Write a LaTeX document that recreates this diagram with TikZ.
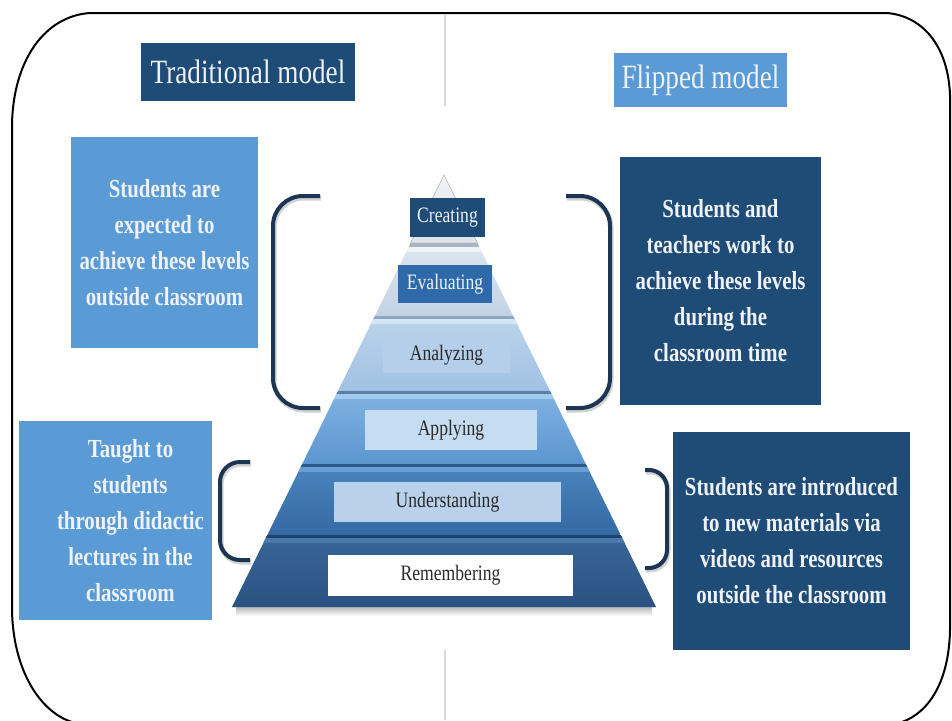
\documentclass[tikz,border=0pt]{standalone}
\usepackage{fontspec}
\setmainfont{Liberation Serif}
\newfontfamily\cond[FakeStretch=0.8]{Liberation Serif}
\usetikzlibrary{calc}
\definecolor{navy}{HTML}{1F4B77}
\definecolor{midblue}{HTML}{5B9BD5}
\definecolor{brk}{HTML}{1B3553}
\definecolor{lighttext}{HTML}{EEF2F6}
\definecolor{darktext}{HTML}{2A2A2A}
\definecolor{Aa}{HTML}{F0F3F7}\definecolor{Ab}{HTML}{DCE3EB}
\definecolor{Ba}{HTML}{DDE6EF}\definecolor{Bb}{HTML}{C3D3E5}
\definecolor{Bs}{HTML}{A9B5C2}\definecolor{Bh}{HTML}{EEF3F8}
\definecolor{Ca}{HTML}{BCD4EC}\definecolor{Cb}{HTML}{A0C1E3}
\definecolor{Cs}{HTML}{8EA6BF}\definecolor{Ch}{HTML}{D4E4F3}
\definecolor{Da}{HTML}{80B3E2}\definecolor{Db}{HTML}{5C96D0}
\definecolor{Ds}{HTML}{5A7FA6}\definecolor{Dh}{HTML}{A3CBF0}
\definecolor{Ea}{HTML}{4A84BF}\definecolor{Eb}{HTML}{346AA3}
\definecolor{Es}{HTML}{2B5A8C}\definecolor{Eh}{HTML}{6A9ED3}
\definecolor{Fa}{HTML}{396696}\definecolor{Fb}{HTML}{2A5282}
\definecolor{Fs}{HTML}{1F426C}\definecolor{Fh}{HTML}{4A78AA}
\definecolor{evalbox}{HTML}{2E6AAA}
\definecolor{anabox}{HTML}{B5CFEB}
\definecolor{appbox}{HTML}{C6DCF1}
\definecolor{undbox}{HTML}{BAD1EB}
\tikzset{
  titlebox/.style={inner sep=0pt, text=lighttext, font=\cond\fontsize{34}{40}\selectfont},
  infobox/.style={inner sep=0pt, text=lighttext, align=center,
    font=\cond\bfseries\fontsize{26}{36}\selectfont},
  lvlbox/.style={inner sep=0pt, font=\cond\fontsize{22}{26}\selectfont},
  bracket/.style={draw=brk, line width=4pt, rounded corners=#1},
  bshadow/.style={draw=gray!35, line width=5pt, rounded corners=#1},
}
\begin{document}
\begin{tikzpicture}[x=1pt,y=-1pt]
\useasboundingbox (0,0) rectangle (952,720);
\fill[white] (0,0) rectangle (952,720);
% outer frame
\draw[line width=2pt, black]
  (90,13) -- (887,13) .. controls (922,16) and (948,45) .. (950,95)
  -- (950,630) .. controls (949,680) and (930,712) .. (902,722)
  -- (72,722) .. controls (40,712) and (13,670) .. (12,610)
  -- (12,125) .. controls (13,60) and (45,16) .. (90,13) -- cycle;
% divider
\draw[gray!30, line width=1.2pt] (445,15) -- (445,106);
\draw[gray!30, line width=1.2pt] (445,650) -- (445,720);
% titles
\node[titlebox, fill=navy, minimum width=214pt, minimum height=58pt] (trad) at (248,72) {Traditional model};
\node[titlebox, fill=midblue, minimum width=173pt, minimum height=54pt] (flip) at (700.5,80) {Flipped model};
% pyramid shadow
\shade[top color=gray!55, bottom color=white] (236,607) rectangle (652,616);
% layer 1
\fill[top color=Aa, bottom color=Ab, draw=gray!45, line width=0.6pt] (444,175) -- (477.4,243) -- (410.6,243) -- cycle;
% layer 2
\begin{scope}
\clip (410.6,243) -- (477.4,243) -- (513.2,316) -- (374.8,316) -- cycle;
\shade[top color=Ba, bottom color=Bb] (330,243) rectangle (560,316);
\fill[Bs] (330,237) rectangle (560,247);
\fill[Bh] (330,247) rectangle (560,252);
\end{scope}
% layer 3
\begin{scope}
\clip (374.8,316) -- (513.2,316) -- (550,391) -- (338,391) -- cycle;
\shade[top color=Ca, bottom color=Cb] (330,316) rectangle (560,391);
\fill[Cs] (330,313) rectangle (560,319);
\fill[Ch] (330,319) rectangle (560,324);
\end{scope}
% layer 4
\begin{scope}
\clip (338,391) -- (550,391) -- (585.8,464) -- (302.2,464) -- cycle;
\shade[top color=Da, bottom color=Db] (290,391) rectangle (600,464);
\fill[Ds] (290,388) rectangle (600,394);
\fill[Dh] (290,394) rectangle (600,399);
\end{scope}
% layer 5
\begin{scope}
\clip (302.2,464) -- (585.8,464) -- (620.7,535) -- (267.3,535) -- cycle;
\shade[top color=Ea, bottom color=Eb] (260,464) rectangle (630,535);
\fill[Es] (260,461) rectangle (630,467);
\fill[Eh] (260,467) rectangle (630,472);
\end{scope}
% layer 6
\begin{scope}
\clip (267.3,535) -- (620.7,535) -- (656,607) -- (232,607) -- cycle;
\shade[top color=Fa, bottom color=Fb] (225,535) rectangle (665,607);
\fill[Fs] (225,532) rectangle (665,538);
\fill[Fh] (225,538) rectangle (665,543);
\end{scope}
% level labels
\node[lvlbox, fill=navy, text=lighttext, minimum width=75pt, minimum height=39pt] (creating) at (447.5,217.5) {Creating};
\node[lvlbox, fill=evalbox, text=lighttext, minimum width=94pt, minimum height=38pt] (evaluating) at (445,284) {Evaluating};
\node[lvlbox, fill=anabox, text=darktext, minimum width=127pt, minimum height=36pt] (analyzing) at (446.5,355) {Analyzing};
\node[lvlbox, fill=appbox, text=darktext, minimum width=172pt, minimum height=40pt] (applying) at (451,430) {Applying};
\node[lvlbox, fill=undbox, text=darktext, minimum width=227pt, minimum height=40pt] (understanding) at (447.5,502) {Understanding};
\node[lvlbox, fill=white, text=darktext, minimum width=245pt, minimum height=41pt] (remembering) at (450.5,575.5) {Remembering};
% info boxes
\node[infobox, fill=midblue, minimum width=187pt, minimum height=211pt] (lt) at (164.5,242.5)
  {Students are\\expected to\\achieve these levels\\outside classroom};
\node[infobox, fill=navy, minimum width=201pt, minimum height=248pt] (rt) at (720.5,281)
  {Students and\\teachers work to\\achieve these levels\\during the\\classroom time};
\node[infobox, fill=midblue, minimum width=193pt, minimum height=199pt] (lb) at (115.5,520.5) {};
\node[infobox] (lbtext) at ($(lb.center)+(15,0)$)
  {Taught to\\students\\through didactic\\lectures in the\\classroom};
\node[infobox, fill=navy, minimum width=237pt, minimum height=218pt] (rb) at (791.5,541)
  {Students are introduced\\to new materials via\\videos and resources\\outside the classroom};
% brackets
\coordinate (ul1) at (320,196); \coordinate (ul2) at (320,408);
\coordinate (ur1) at (566,196); \coordinate (ur2) at (566,408);
\coordinate (ll1) at (250,462); \coordinate (ll2) at (250,560);
\coordinate (lr1) at (645,470); \coordinate (lr2) at (645,568);
\draw[bshadow=30pt] ($(ul1)+(1,2)$) -- (274,198) -- (274,410) -- ($(ul2)+(1,2)$);
\draw[bracket=30pt] (ul1) -- (273,196) -- (273,408) -- (ul2);
\draw[bshadow=30pt] ($(ur1)+(1,2)$) -- (611,198) -- (611,410) -- ($(ur2)+(1,2)$);
\draw[bracket=30pt] (ur1) -- (610,196) -- (610,408) -- (ur2);
\draw[bshadow=20pt] ($(ll1)+(1,2)$) -- (221,464) -- (221,562) -- ($(ll2)+(1,2)$);
\draw[bracket=20pt] (ll1) -- (220,462) -- (220,560) -- (ll2);
\draw[bshadow=18pt] ($(lr1)+(1,2)$) -- (668,472) -- (668,570) -- ($(lr2)+(1,2)$);
\draw[bracket=18pt] (lr1) -- (667,470) -- (667,568) -- (lr2);
\end{tikzpicture}
\end{document}
